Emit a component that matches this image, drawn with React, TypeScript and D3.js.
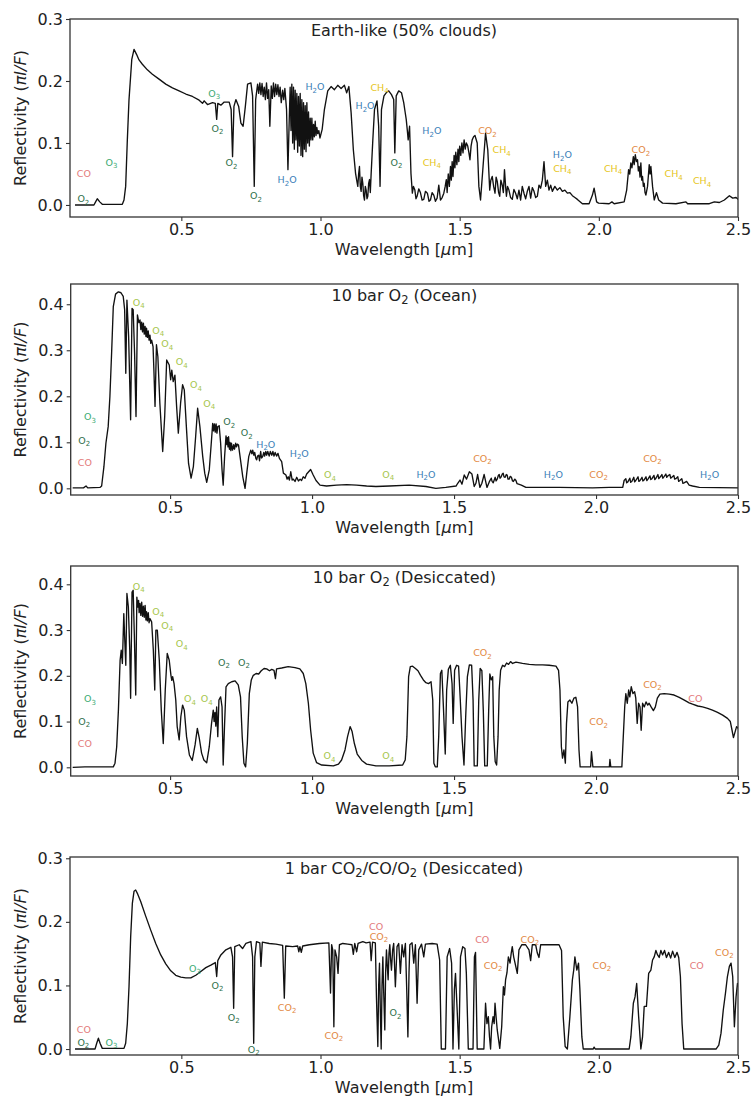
import React, { useEffect, useRef } from "react";
import * as d3 from "d3";

// spectra: [wavelength (um), reflectivity]
type Pt = [number, number];

const xTicks = [0.5, 1.0, 1.5, 2.0, 2.5];
const yTicks03 = [0, 0.1, 0.2, 0.3];
const yTicks04 = [0, 0.1, 0.2, 0.3, 0.4];

const earthSpectrum: Pt[] = [
  [0.118, 0], [0.186, 0], [0.192, 0.005], [0.198, 0.01], [0.207, 0.005], [0.216, 0.001], [0.288, 0.001],
  [0.294, 0.008], [0.3, 0.03], [0.306, 0.105], [0.312, 0.17], [0.322, 0.235], [0.33, 0.251], [0.339, 0.243],
  [0.348, 0.234], [0.36, 0.227], [0.378, 0.218], [0.396, 0.211], [0.42, 0.203], [0.444, 0.195], [0.468, 0.189],
  [0.492, 0.184], [0.516, 0.179], [0.54, 0.175], [0.564, 0.169], [0.576, 0.164], [0.582, 0.168], [0.594, 0.162],
  [0.612, 0.165], [0.622, 0.164], [0.627, 0.138], [0.631, 0.164], [0.642, 0.161], [0.654, 0.166], [0.672, 0.166],
  [0.679, 0.154], [0.684, 0.078], [0.689, 0.159], [0.696, 0.17], [0.706, 0.159], [0.714, 0.132], [0.722, 0.127],
  [0.73, 0.159], [0.738, 0.195], [0.75, 0.197], [0.756, 0.176], [0.762, 0.03], [0.767, 0.17], [0.774, 0.195],
  [0.778, 0.18], [0.782, 0.197], [0.786, 0.178], [0.79, 0.196], [0.794, 0.175], [0.798, 0.19], [0.802, 0.17],
  [0.806, 0.197], [0.81, 0.172], [0.814, 0.186], [0.818, 0.127], [0.823, 0.192], [0.827, 0.172], [0.831, 0.197],
  [0.835, 0.175], [0.839, 0.195], [0.843, 0.178], [0.847, 0.194], [0.851, 0.175], [0.855, 0.19], [0.859, 0.165],
  [0.864, 0.185], [0.868, 0.17], [0.872, 0.188], [0.878, 0.154], [0.883, 0.057], [0.888, 0.143], [0.891, 0.19],
  [0.894, 0.12], [0.897, 0.195], [0.9, 0.1], [0.903, 0.19], [0.906, 0.09], [0.909, 0.185], [0.912, 0.105],
  [0.915, 0.18], [0.918, 0.085], [0.921, 0.175], [0.924, 0.095], [0.927, 0.18], [0.93, 0.08], [0.933, 0.17],
  [0.936, 0.078], [0.939, 0.165], [0.942, 0.09], [0.945, 0.16], [0.948, 0.086], [0.951, 0.165], [0.954, 0.1],
  [0.957, 0.15], [0.96, 0.095], [0.963, 0.14], [0.966, 0.105], [0.969, 0.14], [0.972, 0.105], [0.975, 0.13],
  [0.978, 0.11], [0.981, 0.135], [0.984, 0.112], [0.987, 0.125], [0.99, 0.115], [0.994, 0.12], [0.998, 0.108],
  [1.006, 0.122], [1.014, 0.154], [1.026, 0.184], [1.038, 0.191], [1.05, 0.186], [1.062, 0.193], [1.074, 0.188],
  [1.086, 0.193], [1.094, 0.181], [1.102, 0.191], [1.11, 0.149], [1.118, 0.089], [1.126, 0.051], [1.13, 0.04],
  [1.134, 0.03], [1.137, 0.05], [1.14, 0.062], [1.143, 0.03], [1.146, 0.022], [1.149, 0.045], [1.152, 0.035],
  [1.155, 0.015], [1.158, 0.008], [1.161, 0.03], [1.164, 0.024], [1.167, 0.01], [1.17, 0.014], [1.173, 0.035],
  [1.176, 0.041], [1.179, 0.02], [1.182, 0.051], [1.188, 0.105], [1.194, 0.154], [1.203, 0.168], [1.209, 0.127],
  [1.214, 0.03], [1.219, 0.154], [1.228, 0.176], [1.236, 0.181], [1.245, 0.184], [1.255, 0.178], [1.263, 0.17],
  [1.267, 0.084], [1.272, 0.176], [1.281, 0.184], [1.291, 0.181], [1.299, 0.165], [1.304, 0.15], [1.308, 0.138],
  [1.312, 0.12], [1.315, 0.105], [1.32, 0.127], [1.325, 0.051], [1.33, 0.019], [1.334, 0.03], [1.339, 0.024],
  [1.343, 0.01], [1.347, 0.014], [1.353, 0.026], [1.359, 0.02], [1.365, 0.008], [1.371, 0.009], [1.377, 0.022],
  [1.384, 0.019], [1.39, 0.006], [1.395, 0.008], [1.401, 0.02], [1.407, 0.016], [1.413, 0.006], [1.419, 0.011],
  [1.425, 0.032], [1.431, 0.008], [1.437, 0.012], [1.443, 0.019], [1.448, 0.03], [1.452, 0.041], [1.455, 0.02],
  [1.459, 0.05], [1.463, 0.03], [1.467, 0.062], [1.47, 0.04], [1.473, 0.07], [1.476, 0.046], [1.48, 0.08],
  [1.483, 0.06], [1.486, 0.085], [1.49, 0.065], [1.494, 0.09], [1.497, 0.07], [1.5, 0.095], [1.504, 0.08],
  [1.508, 0.1], [1.512, 0.084], [1.516, 0.105], [1.52, 0.09], [1.524, 0.1], [1.529, 0.095], [1.533, 0.085],
  [1.537, 0.073], [1.541, 0.095], [1.545, 0.105], [1.55, 0.11], [1.555, 0.112], [1.563, 0.1],
  [1.569, 0.03], [1.575, 0.008], [1.584, 0.062], [1.593, 0.116], [1.601, 0.089], [1.608, 0.024], [1.612, 0.04],
  [1.617, 0.046], [1.622, 0.03], [1.627, 0.019], [1.631, 0.045], [1.635, 0.038], [1.64, 0.02], [1.644, 0.014],
  [1.648, 0.04], [1.653, 0.032], [1.657, 0.02], [1.661, 0.057], [1.665, 0.03], [1.668, 0.014], [1.672, 0.03],
  [1.677, 0.024], [1.683, 0.012], [1.689, 0.009], [1.695, 0.025], [1.701, 0.019], [1.707, 0.01], [1.713, 0.024],
  [1.719, 0.008], [1.725, 0.03], [1.731, 0.019], [1.737, 0.01], [1.743, 0.022], [1.749, 0.03], [1.755, 0.011],
  [1.761, 0.028], [1.767, 0.022], [1.773, 0.012], [1.779, 0.014], [1.785, 0.032], [1.791, 0.027], [1.797, 0.04],
  [1.803, 0.07], [1.809, 0.03], [1.815, 0.04], [1.821, 0.024], [1.827, 0.032], [1.833, 0.022], [1.842, 0.03],
  [1.851, 0.024], [1.86, 0.028], [1.869, 0.022], [1.878, 0.024], [1.887, 0.019], [1.896, 0.02], [1.905, 0.015],
  [1.914, 0.012], [1.923, 0.009], [1.941, 0.002], [1.965, 0.002], [1.977, 0.016], [1.983, 0.027], [1.992, 0.005],
  [1.999, 0.003], [2.037, 0.002], [2.047, 0.005], [2.055, 0.002], [2.091, 0.005], [2.1, 0.024], [2.107, 0.057],
  [2.111, 0.05], [2.115, 0.068], [2.119, 0.06], [2.124, 0.078], [2.127, 0.065], [2.131, 0.081], [2.135, 0.07],
  [2.139, 0.073], [2.142, 0.055], [2.145, 0.062], [2.148, 0.045], [2.151, 0.068], [2.154, 0.04], [2.157, 0.046],
  [2.16, 0.03], [2.163, 0.035], [2.166, 0.02], [2.169, 0.016], [2.175, 0.03], [2.181, 0.065], [2.184, 0.05],
  [2.187, 0.062], [2.193, 0.03], [2.199, 0.008], [2.207, 0.02], [2.215, 0.008], [2.229, 0.003], [2.277, 0.002],
  [2.313, 0.005], [2.319, 0.002], [2.397, 0.002], [2.415, 0.005], [2.433, 0.004], [2.451, 0.008], [2.469, 0.015],
  [2.481, 0.011], [2.493, 0.012], [2.501, 0.009],
];

const oceanSpectrum: Pt[] = [
  [0.157, 0.001], [0.195, 0.001], [0.204, 0.005], [0.21, 0.001], [0.253, 0.002], [0.259, 0.005], [0.267, 0.047],
  [0.274, 0.098], [0.282, 0.134], [0.288, 0.199], [0.294, 0.293], [0.3, 0.395], [0.308, 0.422], [0.318, 0.427],
  [0.327, 0.425], [0.335, 0.417], [0.34, 0.388], [0.344, 0.25], [0.348, 0.409], [0.354, 0.33], [0.361, 0.149],
  [0.366, 0.391], [0.37, 0.388], [0.375, 0.293], [0.38, 0.156], [0.385, 0.377], [0.39, 0.36], [0.394, 0.366],
  [0.397, 0.345], [0.4, 0.361], [0.403, 0.34], [0.406, 0.359], [0.409, 0.335], [0.412, 0.352], [0.415, 0.33],
  [0.417, 0.348], [0.42, 0.328], [0.423, 0.342], [0.426, 0.322], [0.429, 0.333], [0.432, 0.315], [0.435, 0.322],
  [0.44, 0.308], [0.443, 0.257], [0.447, 0.178], [0.452, 0.312], [0.457, 0.286], [0.464, 0.185], [0.474, 0.08],
  [0.481, 0.156], [0.488, 0.279], [0.497, 0.268], [0.502, 0.236], [0.506, 0.257], [0.511, 0.232], [0.517, 0.246],
  [0.523, 0.178], [0.529, 0.12], [0.537, 0.185], [0.544, 0.225], [0.55, 0.214], [0.558, 0.127], [0.565, 0.054],
  [0.574, 0.022], [0.582, 0.047], [0.59, 0.112], [0.597, 0.174], [0.605, 0.134], [0.615, 0.069], [0.622, 0.033],
  [0.629, 0.013], [0.638, 0.04], [0.645, 0.098], [0.65, 0.141], [0.653, 0.125], [0.656, 0.14], [0.659, 0.122],
  [0.662, 0.14], [0.665, 0.12], [0.668, 0.134], [0.673, 0.136], [0.678, 0.098], [0.683, 0.04], [0.687, 0.007],
  [0.692, 0.069], [0.697, 0.114], [0.7, 0.095], [0.702, 0.11], [0.704, 0.09], [0.706, 0.112], [0.709, 0.085],
  [0.711, 0.1], [0.714, 0.082], [0.716, 0.098], [0.72, 0.083], [0.724, 0.095], [0.727, 0.085], [0.731, 0.098],
  [0.734, 0.09], [0.737, 0.096], [0.741, 0.094], [0.748, 0.062], [0.756, 0.025], [0.764, 0], [0.77, 0.033],
  [0.777, 0.069], [0.784, 0.083], [0.788, 0.075], [0.791, 0.083], [0.795, 0.072], [0.798, 0.078], [0.802, 0.065],
  [0.805, 0.062], [0.808, 0.07], [0.812, 0.072], [0.815, 0.06], [0.819, 0.08], [0.822, 0.066], [0.826, 0.069],
  [0.83, 0.078], [0.833, 0.07], [0.837, 0.08], [0.84, 0.072], [0.844, 0.08], [0.849, 0.07], [0.853, 0.08],
  [0.858, 0.072], [0.862, 0.08], [0.866, 0.07], [0.87, 0.078], [0.875, 0.07], [0.88, 0.076], [0.885, 0.065],
  [0.893, 0.058], [0.899, 0.033], [0.908, 0.029], [0.912, 0.02], [0.916, 0.025], [0.92, 0.018], [0.925, 0.036],
  [0.93, 0.018], [0.934, 0.02], [0.94, 0.015], [0.946, 0.024], [0.952, 0.016], [0.958, 0.02], [0.963, 0.017],
  [0.969, 0.025], [0.975, 0.022], [0.981, 0.031], [0.988, 0.036], [0.995, 0.041], [1.004, 0.029], [1.014, 0.017],
  [1.028, 0.007], [1.051, 0.005], [1.086, 0.007], [1.122, 0.008], [1.157, 0.007], [1.192, 0.005], [1.225, 0.004],
  [1.272, 0.005], [1.342, 0.007], [1.401, 0.004], [1.436, 0], [1.471, 0.002], [1.507, 0.005], [1.513, 0.011],
  [1.521, 0.018], [1.528, 0.009], [1.536, 0.029], [1.544, 0.02], [1.554, 0.036], [1.563, 0.031], [1.571, 0.004],
  [1.577, 0.011], [1.583, 0.03], [1.591, 0.002], [1.598, 0.011], [1.606, 0.03], [1.616, 0.002], [1.624, 0.014],
  [1.631, 0.022], [1.634, 0.015], [1.638, 0.012], [1.645, 0.024], [1.648, 0.016], [1.652, 0.02], [1.656, 0.028],
  [1.659, 0.03], [1.662, 0.022], [1.666, 0.025], [1.67, 0.031], [1.673, 0.033], [1.676, 0.025], [1.68, 0.024],
  [1.684, 0.03], [1.687, 0.029], [1.69, 0.02], [1.694, 0.02], [1.698, 0.026], [1.702, 0.024], [1.706, 0.016],
  [1.709, 0.015], [1.714, 0.02], [1.718, 0.017], [1.722, 0.01], [1.727, 0.009], [1.737, 0.007], [1.753, 0.002],
  [1.871, 0.002], [1.988, 0.001], [2.047, 0.002], [2.094, 0.002], [2.099, 0.017], [2.105, 0.021],
  [2.108, 0.012], [2.112, 0.014], [2.119, 0.022], [2.122, 0.013], [2.126, 0.015], [2.133, 0.024], [2.136, 0.014],
  [2.14, 0.017], [2.148, 0.025], [2.151, 0.015], [2.155, 0.017], [2.162, 0.024], [2.165, 0.016], [2.169, 0.018],
  [2.176, 0.025], [2.179, 0.017], [2.183, 0.02], [2.19, 0.027], [2.193, 0.019], [2.197, 0.021], [2.204, 0.028],
  [2.207, 0.019], [2.211, 0.022], [2.218, 0.03], [2.221, 0.021], [2.225, 0.024], [2.232, 0.03], [2.235, 0.022],
  [2.239, 0.025], [2.246, 0.031], [2.249, 0.024], [2.253, 0.027], [2.26, 0.03], [2.263, 0.022], [2.267, 0.024],
  [2.274, 0.028], [2.277, 0.02], [2.281, 0.021], [2.288, 0.025], [2.291, 0.015], [2.295, 0.017], [2.302, 0.021],
  [2.306, 0.011], [2.31, 0.012], [2.319, 0.015], [2.328, 0.007], [2.34, 0.005], [2.364, 0.002], [2.501, 0.001],
];

const desiccatedSpectrum: Pt[] = [
  [0.157, 0], [0.2, 0.001], [0.3, 0.001], [0.306, 0.009], [0.312, 0.045], [0.318, 0.125], [0.324, 0.234],
  [0.328, 0.256], [0.332, 0.227], [0.337, 0.336], [0.34, 0.285], [0.344, 0.223], [0.348, 0.38], [0.353, 0.351],
  [0.358, 0.256], [0.361, 0.151], [0.366, 0.383], [0.37, 0.387], [0.374, 0.292], [0.379, 0.158], [0.383, 0.372],
  [0.386, 0.35], [0.389, 0.365], [0.391, 0.338], [0.394, 0.358], [0.397, 0.332], [0.4, 0.361], [0.403, 0.33],
  [0.406, 0.352], [0.409, 0.328], [0.412, 0.354], [0.415, 0.322], [0.417, 0.34], [0.42, 0.32], [0.423, 0.338],
  [0.426, 0.316], [0.429, 0.325], [0.435, 0.318], [0.441, 0.256], [0.446, 0.169], [0.45, 0.3], [0.455, 0.3],
  [0.462, 0.234], [0.469, 0.125], [0.476, 0.052], [0.483, 0.169], [0.49, 0.249], [0.497, 0.234], [0.503, 0.201],
  [0.506, 0.19], [0.509, 0.198], [0.514, 0.183], [0.52, 0.147], [0.525, 0.089], [0.532, 0.06], [0.538, 0.111],
  [0.544, 0.136], [0.55, 0.125], [0.558, 0.067], [0.568, 0.027], [0.578, 0.015], [0.588, 0.049], [0.596, 0.085],
  [0.603, 0.063], [0.611, 0.031], [0.619, 0.016], [0.629, 0.01], [0.638, 0.045], [0.646, 0.096], [0.652, 0.125],
  [0.655, 0.1], [0.658, 0.12], [0.661, 0.09], [0.664, 0.132], [0.668, 0.067], [0.672, 0.147], [0.678, 0.154],
  [0.683, 0.132], [0.687, 0.005], [0.692, 0.096], [0.697, 0.176], [0.705, 0.183], [0.717, 0.187], [0.729, 0.189],
  [0.74, 0.18], [0.748, 0.154], [0.754, 0.067], [0.76, 0.009], [0.766, 0.001], [0.772, 0.052], [0.779, 0.161],
  [0.786, 0.191], [0.793, 0.201], [0.803, 0.205], [0.812, 0.204], [0.821, 0.211], [0.831, 0.216], [0.84, 0.215],
  [0.85, 0.211], [0.858, 0.214], [0.866, 0.212], [0.871, 0.194], [0.875, 0.215], [0.893, 0.217], [0.916, 0.22],
  [0.94, 0.218], [0.957, 0.215], [0.969, 0.205], [0.978, 0.183], [0.987, 0.14], [0.995, 0.081], [1.004, 0.031],
  [1.016, 0.01], [1.034, 0.005], [1.075, 0.003], [1.093, 0.007], [1.104, 0.016], [1.116, 0.038], [1.125, 0.067],
  [1.134, 0.089], [1.141, 0.078], [1.149, 0.052], [1.159, 0.029], [1.175, 0.015], [1.192, 0.007], [1.225, 0.003],
  [1.272, 0.003], [1.319, 0.005], [1.328, 0.016], [1.334, 0.067], [1.34, 0.198], [1.346, 0.22], [1.354, 0.221],
  [1.364, 0.216], [1.373, 0.211], [1.382, 0.201], [1.392, 0.191], [1.401, 0.185], [1.41, 0.183], [1.419, 0.187],
  [1.425, 0.147], [1.429, 0.009], [1.434, 0.001], [1.441, 0.001], [1.446, 0.067], [1.452, 0.205], [1.457, 0.212],
  [1.463, 0.125], [1.469, 0.029], [1.474, 0.169], [1.48, 0.214], [1.487, 0.223], [1.493, 0.183], [1.497, 0.096],
  [1.502, 0.212], [1.509, 0.223], [1.516, 0.221], [1.522, 0.147], [1.528, 0.067], [1.535, 0.005], [1.541, 0.111],
  [1.547, 0.198], [1.554, 0.224], [1.562, 0.223], [1.567, 0.147], [1.571, 0.003], [1.582, 0.003], [1.587, 0.147],
  [1.592, 0.216], [1.598, 0.211], [1.603, 0.125], [1.608, 0.003], [1.617, 0.003], [1.622, 0.125], [1.626, 0.204],
  [1.631, 0.191], [1.636, 0.198], [1.64, 0.067], [1.645, 0.012], [1.65, 0.005], [1.655, 0.067], [1.659, 0.169],
  [1.664, 0.212], [1.671, 0.223], [1.678, 0.22], [1.685, 0.228], [1.692, 0.225], [1.699, 0.231], [1.706, 0.227],
  [1.718, 0.23], [1.741, 0.227], [1.765, 0.225], [1.788, 0.224], [1.812, 0.224], [1.835, 0.223], [1.859, 0.221],
  [1.868, 0.212], [1.873, 0.169], [1.878, 0.045], [1.882, 0.02], [1.887, 0.038], [1.892, 0.009], [1.896, 0.096],
  [1.901, 0.143], [1.908, 0.147], [1.915, 0.14], [1.922, 0.151], [1.929, 0.153], [1.935, 0.132], [1.94, 0.038],
  [1.944, 0.001], [1.981, 0.001], [1.984, 0.034], [1.989, 0.001], [2.047, 0.001], [2.049, 0.017], [2.052, 0.001],
  [2.091, 0.001], [2.096, 0.067], [2.101, 0.132], [2.105, 0.161], [2.11, 0.14], [2.115, 0.169], [2.119, 0.154],
  [2.124, 0.176], [2.13, 0.161], [2.136, 0.165], [2.14, 0.151], [2.145, 0.096], [2.15, 0.14], [2.155, 0.132],
  [2.159, 0.081], [2.164, 0.14], [2.17, 0.132], [2.176, 0.143], [2.182, 0.136], [2.187, 0.14], [2.194, 0.132],
  [2.202, 0.124], [2.209, 0.132], [2.216, 0.151], [2.225, 0.16], [2.24, 0.161], [2.258, 0.16], [2.275, 0.158],
  [2.293, 0.153], [2.311, 0.147], [2.328, 0.141], [2.34, 0.138], [2.358, 0.134], [2.375, 0.132], [2.393, 0.129],
  [2.41, 0.125], [2.428, 0.12], [2.446, 0.114], [2.463, 0.107], [2.473, 0.1], [2.479, 0.081], [2.484, 0.065],
  [2.49, 0.078], [2.495, 0.089], [2.501, 0.085],
];

const co2Spectrum: Pt[] = [
  [0.118, 0], [0.19, 0], [0.196, 0.009], [0.202, 0.017], [0.208, 0.009], [0.216, 0.001], [0.294, 0.001],
  [0.3, 0.009], [0.306, 0.04], [0.312, 0.098], [0.318, 0.177], [0.324, 0.229], [0.33, 0.248], [0.336, 0.25],
  [0.343, 0.244], [0.354, 0.232], [0.372, 0.209], [0.39, 0.187], [0.408, 0.166], [0.426, 0.148], [0.444, 0.134],
  [0.462, 0.123], [0.48, 0.116], [0.498, 0.113], [0.516, 0.112], [0.534, 0.112], [0.552, 0.116], [0.57, 0.122],
  [0.588, 0.128], [0.606, 0.132], [0.622, 0.136], [0.627, 0.114], [0.631, 0.139], [0.642, 0.148], [0.66, 0.156],
  [0.678, 0.16], [0.684, 0.145], [0.688, 0.064], [0.692, 0.161], [0.708, 0.164], [0.72, 0.158], [0.732, 0.166],
  [0.75, 0.169], [0.756, 0.145], [0.76, 0.009], [0.764, 0.145], [0.77, 0.169], [0.782, 0.167], [0.786, 0.13],
  [0.791, 0.168], [0.816, 0.166], [0.84, 0.165], [0.864, 0.163], [0.87, 0.08], [0.875, 0.162], [0.9, 0.161],
  [0.918, 0.162], [0.922, 0.153], [0.926, 0.161], [0.931, 0.152], [0.936, 0.162], [0.96, 0.164], [0.996, 0.166],
  [1.03, 0.167], [1.036, 0.088], [1.04, 0.164], [1.044, 0.156], [1.048, 0.035], [1.052, 0.156], [1.058, 0.145],
  [1.063, 0.119], [1.068, 0.164], [1.08, 0.166], [1.098, 0.165], [1.113, 0.164], [1.118, 0.149], [1.123, 0.166],
  [1.13, 0.153], [1.135, 0.166], [1.152, 0.169], [1.164, 0.167], [1.178, 0.168], [1.182, 0.139], [1.187, 0.168],
  [1.197, 0.167], [1.201, 0.082], [1.206, 0.004], [1.209, 0.1], [1.212, 0.135], [1.215, 0.06], [1.218, 0],
  [1.221, 0.1], [1.224, 0.145], [1.227, 0.09], [1.231, 0.03], [1.234, 0.12], [1.237, 0.156], [1.24, 0.13],
  [1.243, 0.109], [1.246, 0.15], [1.249, 0.164], [1.252, 0.14], [1.255, 0.124], [1.259, 0.155], [1.263, 0.166],
  [1.269, 0.098], [1.275, 0.161], [1.281, 0.166], [1.287, 0.119], [1.293, 0.164], [1.299, 0.145], [1.305, 0.166],
  [1.31, 0.09], [1.314, 0.019], [1.318, 0.12], [1.321, 0.164], [1.329, 0.167], [1.335, 0.135], [1.341, 0.164],
  [1.347, 0.072], [1.353, 0.156], [1.363, 0.165], [1.371, 0.145], [1.377, 0.165], [1.401, 0.166], [1.419, 0.165],
  [1.428, 0.14], [1.434, 0], [1.449, 0], [1.455, 0.145], [1.464, 0.158], [1.471, 0.135], [1.476, 0],
  [1.481, 0.093], [1.485, 0.119], [1.491, 0.061], [1.497, 0], [1.503, 0.145], [1.511, 0.161], [1.519, 0.158],
  [1.524, 0.119], [1.531, 0], [1.548, 0], [1.553, 0.145], [1.557, 0.152], [1.563, 0], [1.587, 0],
  [1.593, 0.072], [1.598, 0.04], [1.603, 0.051], [1.607, 0.02], [1.611, 0], [1.615, 0.035], [1.62, 0.051],
  [1.624, 0.04], [1.627, 0.072], [1.631, 0.05], [1.635, 0.03], [1.644, 0.001], [1.651, 0.035], [1.657, 0.098],
  [1.661, 0.085], [1.665, 0.109], [1.67, 0.12], [1.675, 0.145], [1.681, 0.135], [1.685, 0.15], [1.689, 0.161],
  [1.694, 0.145], [1.699, 0.135], [1.707, 0.119], [1.713, 0.156], [1.723, 0.164], [1.737, 0.164], [1.749, 0.156],
  [1.755, 0.139], [1.761, 0.164], [1.773, 0.164], [1.779, 0.151], [1.785, 0.144], [1.791, 0.164], [1.821, 0.164],
  [1.857, 0.164], [1.866, 0.155], [1.872, 0.051], [1.879, 0.004], [1.887, 0], [1.896, 0.051], [1.905, 0.109],
  [1.91, 0.125], [1.914, 0.145], [1.921, 0.124], [1.927, 0.135], [1.932, 0.093], [1.939, 0.019], [1.944, 0],
  [1.98, 0], [1.983, 0.003], [1.987, 0], [2.109, 0], [2.115, 0.019], [2.124, 0.072], [2.13, 0.082],
  [2.136, 0.103], [2.143, 0.051], [2.151, 0], [2.157, 0.019], [2.163, 0.067], [2.171, 0.067], [2.179, 0.119],
  [2.187, 0.124], [2.193, 0.14], [2.199, 0.145], [2.205, 0.155], [2.211, 0.148], [2.217, 0.144], [2.223, 0.155],
  [2.229, 0.148], [2.236, 0.155], [2.243, 0.144], [2.251, 0.152], [2.258, 0.143], [2.265, 0.154], [2.273, 0.144],
  [2.281, 0.152], [2.287, 0.144], [2.293, 0.114], [2.299, 0.04], [2.305, 0], [2.421, 0], [2.431, 0.006],
  [2.439, 0.025], [2.447, 0.061], [2.455, 0.088], [2.462, 0.114], [2.469, 0.13], [2.475, 0.135], [2.481, 0.114],
  [2.487, 0.035], [2.493, 0.082], [2.498, 0.103], [2.501, 0.098],
];

// molecule labels: [species, wavelength, reflectivity]
type Label = [string, number, number];

const earthLabels: Label[] = [
  ["CO", 0.15, 0.05], ["O3", 0.249, 0.069], ["O2", 0.148, 0.01], ["O3", 0.618, 0.18], ["O2", 0.63, 0.124],
  ["O2", 0.68, 0.068], ["O2", 0.768, 0.015], ["H2O", 0.88, 0.041], ["H2O", 0.98, 0.191], ["H2O", 1.16, 0.16],
  ["CH4", 1.212, 0.19], ["O2", 1.273, 0.069], ["H2O", 1.4, 0.12], ["CH4", 1.4, 0.069], ["CO2", 1.6, 0.12],
  ["CH4", 1.651, 0.089], ["H2O", 1.869, 0.081], ["CH4", 1.869, 0.059], ["CH4", 2.051, 0.059],
  ["CO2", 2.151, 0.089], ["CH4", 2.269, 0.05], ["CH4", 2.371, 0.039],
];

const oceanLabels: Label[] = [
  ["O3", 0.218, 0.156], ["O2", 0.198, 0.104], ["CO", 0.2, 0.056], ["O4", 0.39, 0.404], ["O4", 0.458, 0.344],
  ["O4", 0.49, 0.314], ["O4", 0.541, 0.275], ["O4", 0.591, 0.225], ["O4", 0.638, 0.185], ["O2", 0.708, 0.145],
  ["O2", 0.77, 0.121], ["H2O", 0.837, 0.096], ["H2O", 0.955, 0.076], ["O4", 1.063, 0.029], ["O4", 1.268, 0.031],
  ["H2O", 1.401, 0.031], ["CO2", 1.6, 0.065], ["H2O", 1.85, 0.031], ["CO2", 2.009, 0.031], ["CO2", 2.199, 0.065],
  ["H2O", 2.4, 0.031],
];

const desiccatedLabels: Label[] = [
  ["O3", 0.218, 0.15], ["O2", 0.198, 0.101], ["CO", 0.2, 0.052], ["O4", 0.39, 0.396], ["O4", 0.458, 0.341],
  ["O4", 0.49, 0.31], ["O4", 0.541, 0.27], ["O2", 0.69, 0.23], ["O2", 0.76, 0.23], ["O4", 0.57, 0.15],
  ["O4", 0.629, 0.15], ["O4", 1.061, 0.025], ["O4", 1.268, 0.025], ["CO2", 1.6, 0.25], ["CO2", 2.009, 0.1],
  ["CO2", 2.199, 0.182], ["CO", 2.35, 0.15],
];

const co2Labels: Label[] = [
  ["CO", 0.15, 0.03], ["O2", 0.148, 0.0105], ["O3", 0.249, 0.0105], ["O3", 0.549, 0.127], ["O2", 0.63, 0.1],
  ["O2", 0.688, 0.05], ["O2", 0.76, 0.0], ["CO2", 0.88, 0.066], ["CO2", 1.048, 0.022], ["CO", 1.2, 0.192],
  ["CO2", 1.21, 0.177], ["O2", 1.269, 0.057], ["CO", 1.581, 0.173], ["CO2", 1.62, 0.132], ["CO2", 1.752, 0.173],
  ["CO2", 2.011, 0.132], ["CO", 2.352, 0.132], ["CO2", 2.451, 0.152],
];

const speciesColor: Record<string, string> = {
  CO: "#e3797a",
  O2: "#2f6f4a",
  O3: "#3caa72",
  O4: "#a6c64c",
  H2O: "#3b80b8",
  CH4: "#e6c520",
  CO2: "#e2883f",
};

// species name split into [text, isSubscript]
const speciesParts: Record<string, [string, boolean][]> = {
  CO: [["CO", false]],
  O2: [["O", false], ["2", true]],
  O3: [["O", false], ["3", true]],
  O4: [["O", false], ["4", true]],
  H2O: [["H", false], ["2", true], ["O", false]],
  CH4: [["CH", false], ["4", true]],
  CO2: [["CO", false], ["2", true]],
};

const FONT = "DejaVu Sans, sans-serif";

function Sub({ parts, size, subSize, shift }: { parts: [string, boolean][]; size: number; subSize: number; shift: number }) {
  let cur = 0;
  return (
    <>
      {parts.map(([t, sub], i) => {
        const target = sub ? shift : 0;
        const dy = target - cur;
        cur = target;
        return (
          <tspan key={i} dy={dy} fontSize={sub ? subSize : size}>
            {t}
          </tspan>
        );
      })}
    </>
  );
}

type PanelProps = {
  id: string;
  left: number;
  right: number;
  top: number;
  bottom: number;
  xDomain: [number, number];
  yDomain: [number, number];
  yTicks: number[];
  spectrum: Pt[];
  labels: Label[];
  title: [string, boolean][];
};

function Panel(p: PanelProps) {
  const xRef = useRef<SVGGElement>(null);
  const yRef = useRef<SVGGElement>(null);
  const x = d3.scaleLinear().domain(p.xDomain).range([p.left, p.right]);
  const y = d3.scaleLinear().domain(p.yDomain).range([p.bottom, p.top]);

  useEffect(() => {
    const gx = d3.select(xRef.current!);
    gx.call(d3.axisBottom(x).tickValues(xTicks).tickFormat(d3.format(".1f")).tickSize(4).tickPadding(3) as any);
    gx.select(".domain").remove();
    gx.attr("font-size", 16).attr("font-family", FONT);
    gx.selectAll("line").attr("stroke", "#333").attr("stroke-width", 1.1);
    gx.selectAll("text").attr("fill", "#222");

    const gy = d3.select(yRef.current!);
    gy.call(d3.axisLeft(y).tickValues(p.yTicks).tickFormat(d3.format(".1f")).tickSize(4).tickPadding(3) as any);
    gy.select(".domain").remove();
    gy.attr("font-size", 16).attr("font-family", FONT);
    gy.selectAll("line").attr("stroke", "#333").attr("stroke-width", 1.1);
    gy.selectAll("text").attr("fill", "#222");
  }, []);

  const line = d3
    .line<Pt>()
    .x((d) => x(d[0]))
    .y((d) => y(d[1]));

  const cx = (p.left + p.right) / 2;
  const cy = (p.top + p.bottom) / 2;

  return (
    <g>
      <defs>
        <clipPath id={p.id}>
          <rect x={p.left} y={p.top} width={p.right - p.left} height={p.bottom - p.top} />
        </clipPath>
      </defs>
      <g clipPath={`url(#${p.id})`}>
        <path d={line(p.spectrum) || ""} fill="none" stroke="#111" strokeWidth={1.35} strokeLinejoin="round" />
      </g>
      {p.labels.map(([sp, wl, v], i) => (
        <text
          key={i}
          x={x(wl)}
          y={y(v) + 3.5}
          textAnchor="middle"
          fill={speciesColor[sp]}
          fontFamily={FONT}
          fontSize={9.5}
        >
          <Sub parts={speciesParts[sp]} size={9.5} subSize={7} shift={2.5} />
        </text>
      ))}
      <rect
        x={p.left}
        y={p.top}
        width={p.right - p.left}
        height={p.bottom - p.top}
        fill="none"
        stroke="#333"
        strokeWidth={1.3}
      />
      <g ref={xRef} transform={`translate(0,${p.bottom})`} />
      <g ref={yRef} transform={`translate(${p.left},0)`} />
      <text x={cx} y={p.top + 17} textAnchor="middle" fontFamily={FONT} fontSize={16} fill="#222">
        <Sub parts={p.title} size={16} subSize={11.5} shift={3} />
      </text>
      <text x={cx} y={p.bottom + 38} textAnchor="middle" fontFamily={FONT} fontSize={16} fill="#222">
        Wavelength [<tspan fontStyle="italic">μ</tspan>m]
      </text>
      <text
        transform={`translate(26,${cy}) rotate(-90)`}
        textAnchor="middle"
        fontFamily={FONT}
        fontSize={16}
        fill="#222"
      >
        Reflectivity (<tspan fontStyle="italic">πI/F</tspan>)
      </text>
    </g>
  );
}

export default function App() {
  return (
    <svg
      width={752}
      height={1106}
      style={{ position: "absolute", left: 0, top: 0, background: "#fff" }}
    >
      <rect width={752} height={1106} fill="#fff" />
      <Panel
        id="c1"
        left={70}
        right={738}
        top={19}
        bottom={217}
        xDomain={[0.1, 2.5]}
        yDomain={[-0.0194, 0.3]}
        yTicks={yTicks03}
        spectrum={earthSpectrum}
        labels={earthLabels}
        title={[["Earth-like (50% clouds)", false]]}
      />
      <Panel
        id="c2"
        left={70.7}
        right={738}
        top={284}
        bottom={495}
        xDomain={[0.15, 2.5]}
        yDomain={[-0.0145, 0.444]}
        yTicks={yTicks04}
        spectrum={oceanSpectrum}
        labels={oceanLabels}
        title={[["10 bar O", false], ["2", true], [" (Ocean)", false]]}
      />
      <Panel
        id="c3"
        left={70.7}
        right={738}
        top={566}
        bottom={776}
        xDomain={[0.15, 2.5]}
        yDomain={[-0.019, 0.44]}
        yTicks={yTicks04}
        spectrum={desiccatedSpectrum}
        labels={desiccatedLabels}
        title={[["10 bar O", false], ["2", true], [" (Desiccated)", false]]}
      />
      <Panel
        id="c4"
        left={70}
        right={738}
        top={857}
        bottom={1055}
        xDomain={[0.1, 2.5]}
        yDomain={[-0.0094, 0.302]}
        yTicks={yTicks03}
        spectrum={co2Spectrum}
        labels={co2Labels}
        title={[
          ["1 bar CO", false],
          ["2", true],
          ["/CO/O", false],
          ["2", true],
          [" (Desiccated)", false],
        ]}
      />
    </svg>
  );
}
